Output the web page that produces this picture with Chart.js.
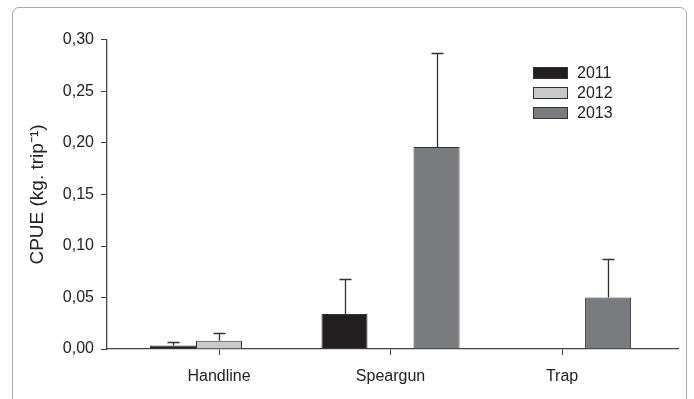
<!DOCTYPE html>
<html>
<head>
<meta charset="utf-8">
<script src="https://cdn.jsdelivr.net/npm/chart.js@4/dist/chart.umd.min.js"></script>
<style>
  html, body { margin: 0; padding: 0; background: #fff; }
  body { width: 694px; height: 399px; position: relative; overflow: hidden; }
  #frame { position: absolute; left: 12px; top: 7px; width: 675px; height: 420px;
           border: 1.5px solid #a8a8a8; border-radius: 7px; box-sizing: border-box; }
  #wrap { position: absolute; left: 0; top: 0; width: 694px; height: 399px; }
</style>
</head>
<body>
<div id="frame"></div>
<div id="wrap"><canvas id="c" width="694" height="399"></canvas></div>
<script>
const categories = ['Handline', 'Speargun', 'Trap'];
const seriesLabels = ['2011', '2012', '2013'];
const values2011 = [0.0035, 0.034, null];
const values2012 = [0.008, null, null];
const values2013 = [null, 0.196, 0.050];
const errTop2011 = [0.0065, 0.068, null];
const errTop2012 = [0.0155, null, null];
const errTop2013 = [null, 0.287, 0.087];
const yTickLabels = ['0,00', '0,05', '0,10', '0,15', '0,20', '0,25', '0,30'];
const colors = ['#231f20', '#c9c9c9', '#797b7e'];

const FONT = "'Liberation Sans', Arial, sans-serif";
const seriesValues = [values2011, values2012, values2013];
const seriesErr = [errTop2011, errTop2012, errTop2013];

const datasets = seriesValues.map((vals, s) => ({
  label: seriesLabels[s],
  data: vals.map((v, i) => ({ x: i + 1, y: v })),
  errTop: seriesErr[s],
  backgroundColor: colors[s],
  borderColor: '#333',
  borderWidth: 1,
  borderSkipped: 'bottom',
  categoryPercentage: 0.805,
  barPercentage: 1.0
}));

const errorBars = {
  id: 'errorBars',
  afterDatasetsDraw(chart) {
    const ctx = chart.ctx;
    const y = chart.scales.y;
    ctx.save();
    ctx.strokeStyle = '#333';
    ctx.lineWidth = 1.3;
    chart.data.datasets.forEach((ds, di) => {
      const meta = chart.getDatasetMeta(di);
      meta.data.forEach((bar, i) => {
        const v = ds.data[i].y;
        const e = ds.errTop[i];
        if (v == null || e == null) return;
        const x = Math.round(bar.x) + 0.5;
        const yb = y.getPixelForValue(v);
        const yt = Math.round(y.getPixelForValue(e)) + 0.5;
        ctx.beginPath();
        ctx.moveTo(x, yb);
        ctx.lineTo(x, yt);
        ctx.moveTo(x - 6, yt);
        ctx.lineTo(x + 6, yt);
        ctx.stroke();
      });
    });
    ctx.restore();
  }
};

const customLegend = {
  id: 'customLegend',
  afterDraw(chart) {
    const ctx = chart.ctx;
    ctx.save();
    const bx = 533, bw = 35, bh = 11, y0 = 72.5, step = 20;
    chart.data.datasets.forEach((ds, i) => {
      const cy = y0 + i * step;
      ctx.fillStyle = ds.backgroundColor;
      ctx.fillRect(bx, cy - bh / 2, bw, bh);
      ctx.strokeStyle = '#333';
      ctx.lineWidth = 1;
      ctx.strokeRect(bx + 0.5, Math.round(cy - bh / 2) + 0.5, bw - 1, bh);
      ctx.fillStyle = '#222';
      ctx.font = '16px ' + FONT;
      ctx.textBaseline = 'middle';
      ctx.textAlign = 'left';
      ctx.fillText(ds.label, 577, cy + 1);
    });
    ctx.restore();
  }
};

new Chart(document.getElementById('c'), {
  type: 'bar',
  data: { datasets },
  options: {
    responsive: false,
    animation: false,
    devicePixelRatio: 1,
    layout: { padding: { left: 26, right: 16, top: 40, bottom: 0 } },
    plugins: { legend: { display: false }, tooltip: { enabled: false } },
    scales: {
      x: {
        type: 'linear',
        min: 0.347,
        max: 3.676,
        offset: false,
        afterBuildTicks(scale) { scale.ticks = categories.map((c, i) => ({ value: i + 1 })); },
        afterFit(scale) { scale.height = 50; },
        ticks: {
          callback: (v) => categories[v - 1],
          font: { family: FONT, size: 16 },
          color: '#222',
          padding: 12,
          maxRotation: 0
        },
        grid: { offset: false, drawOnChartArea: false, drawTicks: true, tickLength: 6, color: '#444', lineWidth: 1 },
        border: { display: true, color: '#444', width: 1.3 }
      },
      y: {
        min: 0,
        max: 0.30,
        afterBuildTicks(scale) { scale.ticks = yTickLabels.map((t, i) => ({ value: i * 0.05 })); },
        afterFit(scale) { scale.width = 81; },
        ticks: {
          callback: (v, i) => yTickLabels[i],
          font: { family: FONT, size: 16 },
          color: '#222',
          padding: 7
        },
        grid: { drawOnChartArea: false, drawTicks: true, tickLength: 6, color: '#444', lineWidth: 1 },
        border: { display: true, color: '#444', width: 1.3 },
        title: {
          display: true,
          text: 'CPUE (kg. trip\u207B\u00B9)',
          font: { family: FONT, size: 19 },
          color: '#222',
          padding: { top: 0, bottom: 8 }
        }
      }
    }
  },
  plugins: [errorBars, customLegend]
});
</script>
</body>
</html>
